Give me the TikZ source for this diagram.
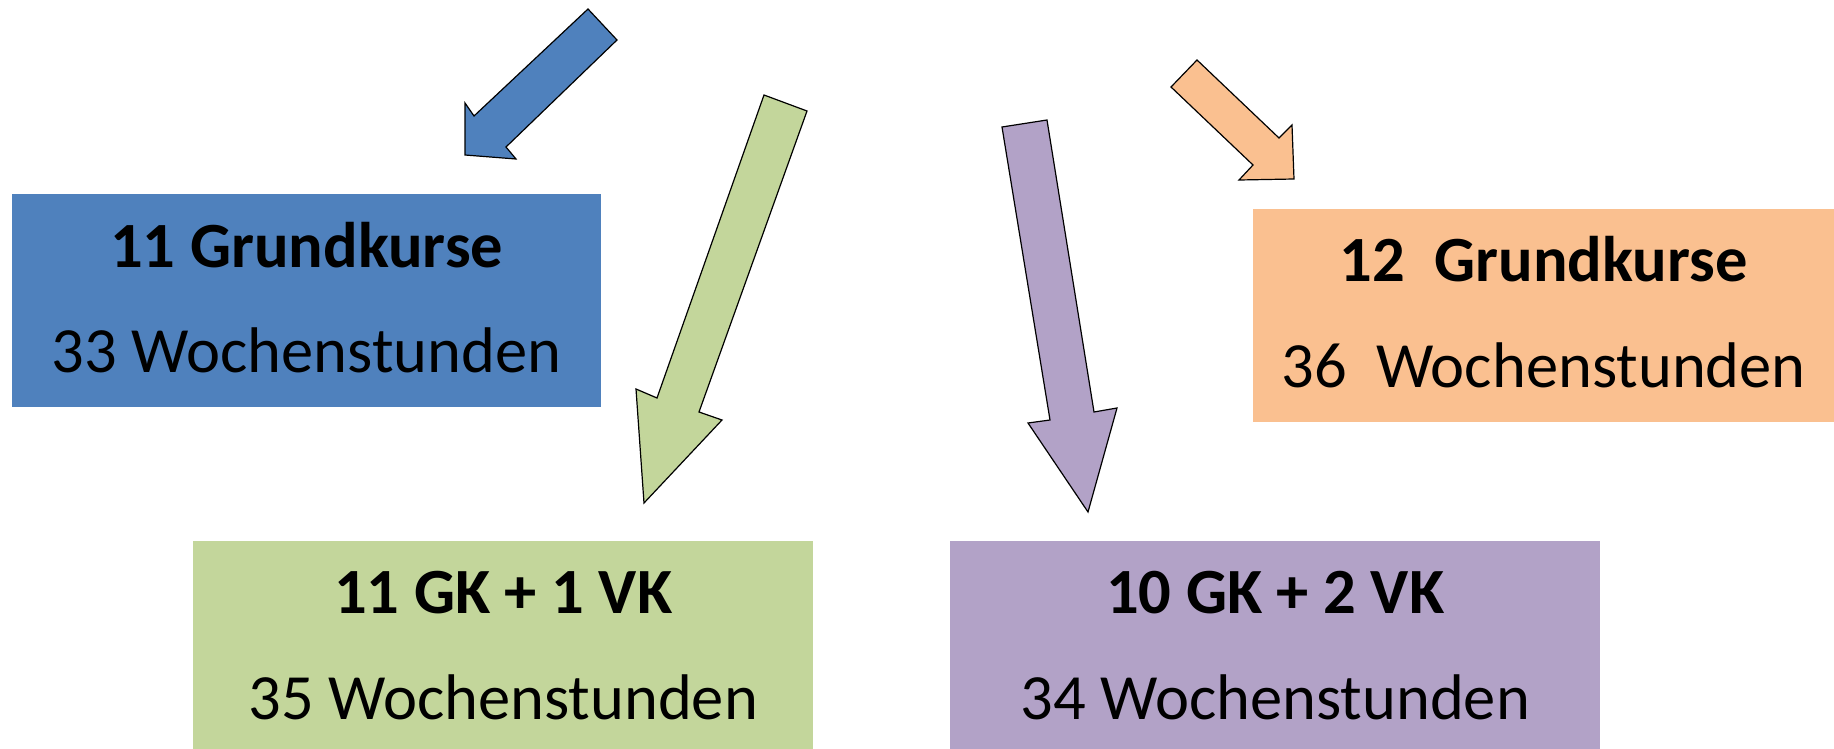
\documentclass[tikz,border=0pt]{standalone}
\usepackage{fontspec}
\setmainfont{Carlito}
\usepackage{tikz}
\definecolor{kblau}{HTML}{4F81BD}
\definecolor{kgruen}{HTML}{C3D69B}
\definecolor{klila}{HTML}{B2A2C7}
\definecolor{korange}{HTML}{FAC090}

\begin{document}
\begin{tikzpicture}[x=1pt,y=-1pt,
	box/.style={rectangle,anchor=north west,inner sep=0pt},
	pfeil/.style={draw=black,line width=1.2pt,line join=miter},
	kopf/.style={anchor=base,font=\fontsize{64.5}{70}\selectfont\bfseries},
	zeile/.style={anchor=base,font=\fontsize{64.5}{70}\selectfont}]
	\useasboundingbox (0,0) rectangle (1834,749);
	\node[box,fill=kblau,minimum width=589pt,minimum height=213pt] (B11) at (12,194) {};
	\node[box,fill=korange,minimum width=581pt,minimum height=213pt] (B12) at (1253,209) {};
	\node[box,fill=kgruen,minimum width=620pt,minimum height=210pt] (B1V) at (193,541) {};
	\node[box,fill=klila,minimum width=650pt,minimum height=210pt] (B2V) at (950,541) {};

	\node[kopf] (K11) at (B11.center |- 0,267) {11 Grundkurse};
	\node[zeile] (Z11) at (B11.center |- 0,372) {33 Wochenstunden};
	\node[kopf] (K12) at (B12.center |- 0,281) {12\ \ Grundkurse};
	\node[zeile] (Z12) at (B12.center |- 0,387) {36\ \ Wochenstunden};
	\node[kopf] (K1V) at (B1V.center |- 0,613) {11 GK + 1 VK};
	\node[zeile] (Z1V) at (B1V.center |- 0,719) {35 Wochenstunden};
	\node[kopf] (K2V) at (B2V.center |- 0,613) {10 GK + 2 VK};
	\node[zeile] (Z2V) at (B2V.center |- 0,719) {34 Wochenstunden};

	\filldraw[pfeil,fill=kblau] (588,9) -- (617,40) -- (506,147) -- (516,159) -- (465,155) -- (465,103) -- (474,116) -- cycle;
	\filldraw[pfeil,fill=kgruen] (764,95) -- (807,111) -- (699,412) -- (722,420) -- (644,503) -- (636,389) -- (657,398) -- cycle;
	\filldraw[pfeil,fill=klila] (1002,127) -- (1047,120) -- (1094,412) -- (1117,408) -- (1088,512) -- (1028,423) -- (1050,420) -- cycle;
	\filldraw[pfeil,fill=korange] (1197,60) -- (1279,138) -- (1292,125) -- (1294,179) -- (1239,180) -- (1253,165) -- (1171,87) -- cycle;

\end{tikzpicture}
\end{document}
